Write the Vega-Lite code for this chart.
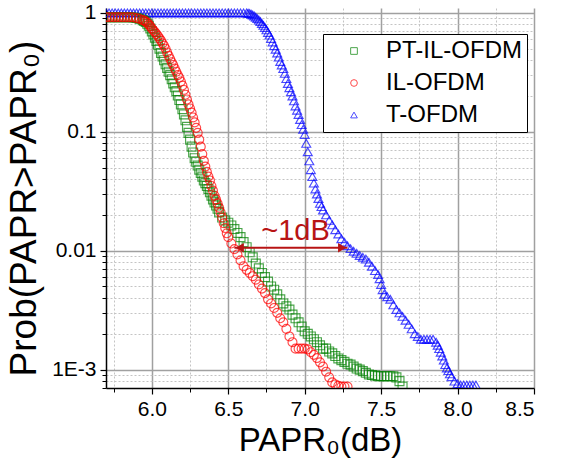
{
  "$schema": "https://vega.github.io/schema/vega-lite/v6.json",
  "width": 428,
  "height": 380,
  "autosize": {"type": "none"},
  "padding": {"left": 106, "top": 8, "right": 28, "bottom": 84},
  "config": {"view": {"stroke": null}, "font": "Liberation Sans"},
  "datasets": {
    "ccdf": [
      {"s":"T-OFDM","x":5.70,"p":1},{"s":"T-OFDM","x":5.72,"p":1},{"s":"T-OFDM","x":5.74,"p":1},{"s":"T-OFDM","x":5.76,"p":1},{"s":"T-OFDM","x":5.78,"p":1},{"s":"T-OFDM","x":5.80,"p":1},{"s":"T-OFDM","x":5.82,"p":1},{"s":"T-OFDM","x":5.84,"p":1},{"s":"T-OFDM","x":5.86,"p":1},{"s":"T-OFDM","x":5.88,"p":1},{"s":"T-OFDM","x":5.90,"p":1},{"s":"T-OFDM","x":5.92,"p":1},{"s":"T-OFDM","x":5.94,"p":1},{"s":"T-OFDM","x":5.96,"p":1},{"s":"T-OFDM","x":5.98,"p":1},{"s":"T-OFDM","x":6.00,"p":1},{"s":"T-OFDM","x":6.02,"p":1},{"s":"T-OFDM","x":6.04,"p":1},{"s":"T-OFDM","x":6.06,"p":1},{"s":"T-OFDM","x":6.08,"p":1},{"s":"T-OFDM","x":6.10,"p":1},{"s":"T-OFDM","x":6.12,"p":1},{"s":"T-OFDM","x":6.14,"p":1},{"s":"T-OFDM","x":6.16,"p":1},{"s":"T-OFDM","x":6.18,"p":1},{"s":"T-OFDM","x":6.20,"p":1},{"s":"T-OFDM","x":6.22,"p":1},{"s":"T-OFDM","x":6.24,"p":1},{"s":"T-OFDM","x":6.26,"p":1},{"s":"T-OFDM","x":6.28,"p":1},{"s":"T-OFDM","x":6.30,"p":1},{"s":"T-OFDM","x":6.32,"p":1},{"s":"T-OFDM","x":6.34,"p":1},{"s":"T-OFDM","x":6.36,"p":1},{"s":"T-OFDM","x":6.38,"p":1},{"s":"T-OFDM","x":6.40,"p":1},{"s":"T-OFDM","x":6.42,"p":1},{"s":"T-OFDM","x":6.44,"p":1},{"s":"T-OFDM","x":6.46,"p":1},{"s":"T-OFDM","x":6.48,"p":1},{"s":"T-OFDM","x":6.50,"p":1},{"s":"T-OFDM","x":6.52,"p":1},{"s":"T-OFDM","x":6.54,"p":1},{"s":"T-OFDM","x":6.56,"p":1},{"s":"T-OFDM","x":6.58,"p":1},{"s":"T-OFDM","x":6.60,"p":1},
      {"s":"T-OFDM","x":6.62,"p":1},{"s":"T-OFDM","x":6.63,"p":0.995},{"s":"T-OFDM","x":6.64,"p":0.99},{"s":"T-OFDM","x":6.65,"p":0.975},{"s":"T-OFDM","x":6.66,"p":0.96},{"s":"T-OFDM","x":6.67,"p":0.94},{"s":"T-OFDM","x":6.68,"p":0.92},{"s":"T-OFDM","x":6.69,"p":0.895},{"s":"T-OFDM","x":6.70,"p":0.87},{"s":"T-OFDM","x":6.71,"p":0.845},{"s":"T-OFDM","x":6.72,"p":0.815},{"s":"T-OFDM","x":6.73,"p":0.785},{"s":"T-OFDM","x":6.74,"p":0.755},{"s":"T-OFDM","x":6.75,"p":0.72},{"s":"T-OFDM","x":6.76,"p":0.685},{"s":"T-OFDM","x":6.77,"p":0.65},{"s":"T-OFDM","x":6.78,"p":0.61},{"s":"T-OFDM","x":6.79,"p":0.57},{"s":"T-OFDM","x":6.80,"p":0.53},{"s":"T-OFDM","x":6.81,"p":0.495},{"s":"T-OFDM","x":6.82,"p":0.46},{"s":"T-OFDM","x":6.83,"p":0.425},{"s":"T-OFDM","x":6.84,"p":0.39},{"s":"T-OFDM","x":6.85,"p":0.365},{"s":"T-OFDM","x":6.86,"p":0.34},{"s":"T-OFDM","x":6.87,"p":0.31},{"s":"T-OFDM","x":6.88,"p":0.28},{"s":"T-OFDM","x":6.89,"p":0.255},{"s":"T-OFDM","x":6.90,"p":0.235},{"s":"T-OFDM","x":6.91,"p":0.217},{"s":"T-OFDM","x":6.92,"p":0.2},{"s":"T-OFDM","x":6.93,"p":0.182},{"s":"T-OFDM","x":6.94,"p":0.165},{"s":"T-OFDM","x":6.95,"p":0.152},{"s":"T-OFDM","x":6.96,"p":0.14},{"s":"T-OFDM","x":6.97,"p":0.127},{"s":"T-OFDM","x":6.98,"p":0.115},{"s":"T-OFDM","x":6.99,"p":0.105},{"s":"T-OFDM","x":7.00,"p":0.095},{"s":"T-OFDM","x":7.01,"p":0.08},{"s":"T-OFDM","x":7.02,"p":0.068},{"s":"T-OFDM","x":7.03,"p":0.057},{"s":"T-OFDM","x":7.04,"p":0.048},{"s":"T-OFDM","x":7.05,"p":0.042},{"s":"T-OFDM","x":7.06,"p":0.037},{"s":"T-OFDM","x":7.07,"p":0.033},{"s":"T-OFDM","x":7.08,"p":0.03},{"s":"T-OFDM","x":7.09,"p":0.0275},{"s":"T-OFDM","x":7.10,"p":0.025},{"s":"T-OFDM","x":7.11,"p":0.0235},{"s":"T-OFDM","x":7.12,"p":0.022},
      {"s":"T-OFDM","x":7.14,"p":0.02},{"s":"T-OFDM","x":7.16,"p":0.018},{"s":"T-OFDM","x":7.18,"p":0.0165},{"s":"T-OFDM","x":7.20,"p":0.015},{"s":"T-OFDM","x":7.22,"p":0.0138},{"s":"T-OFDM","x":7.24,"p":0.0126},{"s":"T-OFDM","x":7.26,"p":0.0118},{"s":"T-OFDM","x":7.28,"p":0.011},{"s":"T-OFDM","x":7.30,"p":0.0104},{"s":"T-OFDM","x":7.32,"p":0.0099},{"s":"T-OFDM","x":7.34,"p":0.0095},{"s":"T-OFDM","x":7.36,"p":0.0091},{"s":"T-OFDM","x":7.38,"p":0.0088},{"s":"T-OFDM","x":7.40,"p":0.0085},{"s":"T-OFDM","x":7.42,"p":0.008},{"s":"T-OFDM","x":7.44,"p":0.0074},{"s":"T-OFDM","x":7.46,"p":0.0068},{"s":"T-OFDM","x":7.48,"p":0.0063},{"s":"T-OFDM","x":7.49,"p":0.0058},{"s":"T-OFDM","x":7.50,"p":0.0052},{"s":"T-OFDM","x":7.51,"p":0.0047},{"s":"T-OFDM","x":7.52,"p":0.0043},{"s":"T-OFDM","x":7.54,"p":0.0041},{"s":"T-OFDM","x":7.56,"p":0.0039},{"s":"T-OFDM","x":7.58,"p":0.0035},{"s":"T-OFDM","x":7.60,"p":0.0032},{"s":"T-OFDM","x":7.62,"p":0.003},{"s":"T-OFDM","x":7.64,"p":0.0028},{"s":"T-OFDM","x":7.66,"p":0.0026},{"s":"T-OFDM","x":7.68,"p":0.0024},{"s":"T-OFDM","x":7.70,"p":0.0022},{"s":"T-OFDM","x":7.72,"p":0.002},{"s":"T-OFDM","x":7.74,"p":0.0019},{"s":"T-OFDM","x":7.76,"p":0.0018},{"s":"T-OFDM","x":7.78,"p":0.0018},{"s":"T-OFDM","x":7.80,"p":0.0018},{"s":"T-OFDM","x":7.82,"p":0.0018},{"s":"T-OFDM","x":7.84,"p":0.0018},{"s":"T-OFDM","x":7.86,"p":0.0017},{"s":"T-OFDM","x":7.87,"p":0.0016},{"s":"T-OFDM","x":7.88,"p":0.0015},{"s":"T-OFDM","x":7.89,"p":0.0014},{"s":"T-OFDM","x":7.90,"p":0.0013},{"s":"T-OFDM","x":7.91,"p":0.0012},{"s":"T-OFDM","x":7.92,"p":0.0011},{"s":"T-OFDM","x":7.93,"p":0.00103},{"s":"T-OFDM","x":7.94,"p":0.00098},{"s":"T-OFDM","x":7.95,"p":0.00092},{"s":"T-OFDM","x":7.96,"p":0.00087},{"s":"T-OFDM","x":7.98,"p":0.0008},{"s":"T-OFDM","x":8.00,"p":0.00076},{"s":"T-OFDM","x":8.02,"p":0.00074},{"s":"T-OFDM","x":8.04,"p":0.00074},{"s":"T-OFDM","x":8.06,"p":0.00074},{"s":"T-OFDM","x":8.08,"p":0.00074},{"s":"T-OFDM","x":8.10,"p":0.00074},{"s":"T-OFDM","x":8.12,"p":0.00074},

      {"s":"PT-IL-OFDM","x":5.70,"p":0.92},{"s":"PT-IL-OFDM","x":5.72,"p":0.92},{"s":"PT-IL-OFDM","x":5.74,"p":0.92},{"s":"PT-IL-OFDM","x":5.76,"p":0.92},{"s":"PT-IL-OFDM","x":5.78,"p":0.92},{"s":"PT-IL-OFDM","x":5.80,"p":0.92},{"s":"PT-IL-OFDM","x":5.82,"p":0.92},{"s":"PT-IL-OFDM","x":5.84,"p":0.92},{"s":"PT-IL-OFDM","x":5.86,"p":0.92},{"s":"PT-IL-OFDM","x":5.88,"p":0.915},{"s":"PT-IL-OFDM","x":5.90,"p":0.905},{"s":"PT-IL-OFDM","x":5.92,"p":0.89},{"s":"PT-IL-OFDM","x":5.94,"p":0.87},{"s":"PT-IL-OFDM","x":5.95,"p":0.855},{"s":"PT-IL-OFDM","x":5.96,"p":0.84},{"s":"PT-IL-OFDM","x":5.97,"p":0.81},{"s":"PT-IL-OFDM","x":5.98,"p":0.78},{"s":"PT-IL-OFDM","x":5.99,"p":0.74},{"s":"PT-IL-OFDM","x":6.00,"p":0.7},{"s":"PT-IL-OFDM","x":6.01,"p":0.66},{"s":"PT-IL-OFDM","x":6.02,"p":0.62},{"s":"PT-IL-OFDM","x":6.03,"p":0.58},{"s":"PT-IL-OFDM","x":6.04,"p":0.54},{"s":"PT-IL-OFDM","x":6.05,"p":0.5},{"s":"PT-IL-OFDM","x":6.06,"p":0.46},{"s":"PT-IL-OFDM","x":6.07,"p":0.43},{"s":"PT-IL-OFDM","x":6.08,"p":0.4},{"s":"PT-IL-OFDM","x":6.09,"p":0.37},{"s":"PT-IL-OFDM","x":6.10,"p":0.345},{"s":"PT-IL-OFDM","x":6.11,"p":0.32},{"s":"PT-IL-OFDM","x":6.12,"p":0.3},{"s":"PT-IL-OFDM","x":6.13,"p":0.277},{"s":"PT-IL-OFDM","x":6.14,"p":0.255},{"s":"PT-IL-OFDM","x":6.15,"p":0.237},{"s":"PT-IL-OFDM","x":6.16,"p":0.22},{"s":"PT-IL-OFDM","x":6.17,"p":0.202},{"s":"PT-IL-OFDM","x":6.18,"p":0.185},{"s":"PT-IL-OFDM","x":6.19,"p":0.17},{"s":"PT-IL-OFDM","x":6.20,"p":0.155},{"s":"PT-IL-OFDM","x":6.21,"p":0.14},{"s":"PT-IL-OFDM","x":6.22,"p":0.125},{"s":"PT-IL-OFDM","x":6.23,"p":0.11},{"s":"PT-IL-OFDM","x":6.24,"p":0.098},{"s":"PT-IL-OFDM","x":6.25,"p":0.086},{"s":"PT-IL-OFDM","x":6.26,"p":0.075},{"s":"PT-IL-OFDM","x":6.27,"p":0.067},{"s":"PT-IL-OFDM","x":6.28,"p":0.06},{"s":"PT-IL-OFDM","x":6.29,"p":0.056},{"s":"PT-IL-OFDM","x":6.30,"p":0.052},{"s":"PT-IL-OFDM","x":6.31,"p":0.048},{"s":"PT-IL-OFDM","x":6.32,"p":0.045},{"s":"PT-IL-OFDM","x":6.33,"p":0.042},{"s":"PT-IL-OFDM","x":6.34,"p":0.039},{"s":"PT-IL-OFDM","x":6.35,"p":0.037},{"s":"PT-IL-OFDM","x":6.36,"p":0.035},{"s":"PT-IL-OFDM","x":6.37,"p":0.033},{"s":"PT-IL-OFDM","x":6.38,"p":0.031},{"s":"PT-IL-OFDM","x":6.39,"p":0.029},{"s":"PT-IL-OFDM","x":6.40,"p":0.027},{"s":"PT-IL-OFDM","x":6.41,"p":0.0255},{"s":"PT-IL-OFDM","x":6.42,"p":0.024},{"s":"PT-IL-OFDM","x":6.43,"p":0.0225},{"s":"PT-IL-OFDM","x":6.44,"p":0.021},{"s":"PT-IL-OFDM","x":6.46,"p":0.019},{"s":"PT-IL-OFDM","x":6.48,"p":0.018},{"s":"PT-IL-OFDM","x":6.50,"p":0.0172},{"s":"PT-IL-OFDM","x":6.52,"p":0.0163},{"s":"PT-IL-OFDM","x":6.54,"p":0.0152},{"s":"PT-IL-OFDM","x":6.56,"p":0.0141},{"s":"PT-IL-OFDM","x":6.58,"p":0.013},{"s":"PT-IL-OFDM","x":6.60,"p":0.0118},{"s":"PT-IL-OFDM","x":6.62,"p":0.0107},{"s":"PT-IL-OFDM","x":6.64,"p":0.0097},{"s":"PT-IL-OFDM","x":6.66,"p":0.0088},{"s":"PT-IL-OFDM","x":6.68,"p":0.0078},{"s":"PT-IL-OFDM","x":6.70,"p":0.0071},{"s":"PT-IL-OFDM","x":6.72,"p":0.0065},{"s":"PT-IL-OFDM","x":6.74,"p":0.006},{"s":"PT-IL-OFDM","x":6.76,"p":0.0055},{"s":"PT-IL-OFDM","x":6.78,"p":0.005},{"s":"PT-IL-OFDM","x":6.80,"p":0.0047},{"s":"PT-IL-OFDM","x":6.82,"p":0.0043},{"s":"PT-IL-OFDM","x":6.84,"p":0.0039},{"s":"PT-IL-OFDM","x":6.86,"p":0.0036},{"s":"PT-IL-OFDM","x":6.88,"p":0.0034},{"s":"PT-IL-OFDM","x":6.90,"p":0.0032},{"s":"PT-IL-OFDM","x":6.92,"p":0.0029},{"s":"PT-IL-OFDM","x":6.94,"p":0.0027},{"s":"PT-IL-OFDM","x":6.96,"p":0.0025},{"s":"PT-IL-OFDM","x":6.98,"p":0.0023},{"s":"PT-IL-OFDM","x":7.00,"p":0.0021},{"s":"PT-IL-OFDM","x":7.02,"p":0.002},{"s":"PT-IL-OFDM","x":7.04,"p":0.0019},{"s":"PT-IL-OFDM","x":7.06,"p":0.0018},{"s":"PT-IL-OFDM","x":7.08,"p":0.0017},{"s":"PT-IL-OFDM","x":7.10,"p":0.0016},{"s":"PT-IL-OFDM","x":7.12,"p":0.0015},{"s":"PT-IL-OFDM","x":7.14,"p":0.0015},{"s":"PT-IL-OFDM","x":7.16,"p":0.00142},{"s":"PT-IL-OFDM","x":7.18,"p":0.00137},{"s":"PT-IL-OFDM","x":7.20,"p":0.0013},{"s":"PT-IL-OFDM","x":7.22,"p":0.00124},{"s":"PT-IL-OFDM","x":7.24,"p":0.0012},{"s":"PT-IL-OFDM","x":7.26,"p":0.00116},{"s":"PT-IL-OFDM","x":7.28,"p":0.00112},{"s":"PT-IL-OFDM","x":7.30,"p":0.0011},{"s":"PT-IL-OFDM","x":7.32,"p":0.00106},{"s":"PT-IL-OFDM","x":7.34,"p":0.00102},{"s":"PT-IL-OFDM","x":7.36,"p":0.001},{"s":"PT-IL-OFDM","x":7.38,"p":0.00097},{"s":"PT-IL-OFDM","x":7.40,"p":0.00094},{"s":"PT-IL-OFDM","x":7.42,"p":0.00091},{"s":"PT-IL-OFDM","x":7.44,"p":0.0009},{"s":"PT-IL-OFDM","x":7.46,"p":0.00089},{"s":"PT-IL-OFDM","x":7.48,"p":0.00088},{"s":"PT-IL-OFDM","x":7.50,"p":0.00088},{"s":"PT-IL-OFDM","x":7.52,"p":0.00088},{"s":"PT-IL-OFDM","x":7.54,"p":0.00088},{"s":"PT-IL-OFDM","x":7.56,"p":0.00088},{"s":"PT-IL-OFDM","x":7.58,"p":0.00088},{"s":"PT-IL-OFDM","x":7.60,"p":0.00086},{"s":"PT-IL-OFDM","x":7.62,"p":0.0008},{"s":"PT-IL-OFDM","x":7.64,"p":0.00072},

      {"s":"IL-OFDM","x":5.70,"p":0.92},{"s":"IL-OFDM","x":5.72,"p":0.92},{"s":"IL-OFDM","x":5.74,"p":0.92},{"s":"IL-OFDM","x":5.76,"p":0.92},{"s":"IL-OFDM","x":5.78,"p":0.92},{"s":"IL-OFDM","x":5.80,"p":0.92},{"s":"IL-OFDM","x":5.82,"p":0.92},{"s":"IL-OFDM","x":5.84,"p":0.92},{"s":"IL-OFDM","x":5.86,"p":0.92},{"s":"IL-OFDM","x":5.88,"p":0.915},{"s":"IL-OFDM","x":5.90,"p":0.905},{"s":"IL-OFDM","x":5.92,"p":0.89},{"s":"IL-OFDM","x":5.94,"p":0.87},{"s":"IL-OFDM","x":5.95,"p":0.86},{"s":"IL-OFDM","x":5.96,"p":0.845},{"s":"IL-OFDM","x":5.97,"p":0.825},{"s":"IL-OFDM","x":5.98,"p":0.8},{"s":"IL-OFDM","x":5.99,"p":0.77},{"s":"IL-OFDM","x":6.00,"p":0.74},{"s":"IL-OFDM","x":6.01,"p":0.715},{"s":"IL-OFDM","x":6.02,"p":0.69},{"s":"IL-OFDM","x":6.03,"p":0.665},{"s":"IL-OFDM","x":6.04,"p":0.64},{"s":"IL-OFDM","x":6.05,"p":0.61},{"s":"IL-OFDM","x":6.06,"p":0.585},{"s":"IL-OFDM","x":6.07,"p":0.555},{"s":"IL-OFDM","x":6.08,"p":0.53},{"s":"IL-OFDM","x":6.09,"p":0.5},{"s":"IL-OFDM","x":6.10,"p":0.465},{"s":"IL-OFDM","x":6.11,"p":0.435},{"s":"IL-OFDM","x":6.12,"p":0.41},{"s":"IL-OFDM","x":6.13,"p":0.385},{"s":"IL-OFDM","x":6.14,"p":0.365},{"s":"IL-OFDM","x":6.15,"p":0.34},{"s":"IL-OFDM","x":6.16,"p":0.32},{"s":"IL-OFDM","x":6.17,"p":0.3},{"s":"IL-OFDM","x":6.18,"p":0.285},{"s":"IL-OFDM","x":6.19,"p":0.265},{"s":"IL-OFDM","x":6.20,"p":0.245},{"s":"IL-OFDM","x":6.21,"p":0.225},{"s":"IL-OFDM","x":6.22,"p":0.205},{"s":"IL-OFDM","x":6.23,"p":0.187},{"s":"IL-OFDM","x":6.24,"p":0.17},{"s":"IL-OFDM","x":6.25,"p":0.157},{"s":"IL-OFDM","x":6.26,"p":0.145},{"s":"IL-OFDM","x":6.27,"p":0.132},{"s":"IL-OFDM","x":6.28,"p":0.12},{"s":"IL-OFDM","x":6.29,"p":0.108},{"s":"IL-OFDM","x":6.30,"p":0.098},{"s":"IL-OFDM","x":6.31,"p":0.086},{"s":"IL-OFDM","x":6.32,"p":0.075},{"s":"IL-OFDM","x":6.33,"p":0.065},{"s":"IL-OFDM","x":6.34,"p":0.057},{"s":"IL-OFDM","x":6.35,"p":0.051},{"s":"IL-OFDM","x":6.36,"p":0.046},{"s":"IL-OFDM","x":6.37,"p":0.042},{"s":"IL-OFDM","x":6.38,"p":0.039},{"s":"IL-OFDM","x":6.39,"p":0.035},{"s":"IL-OFDM","x":6.40,"p":0.032},{"s":"IL-OFDM","x":6.41,"p":0.029},{"s":"IL-OFDM","x":6.42,"p":0.027},{"s":"IL-OFDM","x":6.43,"p":0.025},{"s":"IL-OFDM","x":6.44,"p":0.023},{"s":"IL-OFDM","x":6.45,"p":0.021},{"s":"IL-OFDM","x":6.46,"p":0.019},{"s":"IL-OFDM","x":6.47,"p":0.017},{"s":"IL-OFDM","x":6.48,"p":0.0155},{"s":"IL-OFDM","x":6.49,"p":0.014},{"s":"IL-OFDM","x":6.50,"p":0.013},{"s":"IL-OFDM","x":6.52,"p":0.0115},{"s":"IL-OFDM","x":6.54,"p":0.0103},{"s":"IL-OFDM","x":6.56,"p":0.0093},{"s":"IL-OFDM","x":6.58,"p":0.0083},{"s":"IL-OFDM","x":6.60,"p":0.0074},{"s":"IL-OFDM","x":6.62,"p":0.0069},{"s":"IL-OFDM","x":6.64,"p":0.0065},{"s":"IL-OFDM","x":6.66,"p":0.0061},{"s":"IL-OFDM","x":6.68,"p":0.0057},{"s":"IL-OFDM","x":6.70,"p":0.0052},{"s":"IL-OFDM","x":6.72,"p":0.0048},{"s":"IL-OFDM","x":6.74,"p":0.0044},{"s":"IL-OFDM","x":6.76,"p":0.0039},{"s":"IL-OFDM","x":6.78,"p":0.0036},{"s":"IL-OFDM","x":6.80,"p":0.0033},{"s":"IL-OFDM","x":6.82,"p":0.003},{"s":"IL-OFDM","x":6.84,"p":0.0027},{"s":"IL-OFDM","x":6.86,"p":0.0025},{"s":"IL-OFDM","x":6.88,"p":0.0022},{"s":"IL-OFDM","x":6.90,"p":0.0019},{"s":"IL-OFDM","x":6.92,"p":0.0017},{"s":"IL-OFDM","x":6.94,"p":0.0015},{"s":"IL-OFDM","x":6.96,"p":0.0015},{"s":"IL-OFDM","x":6.98,"p":0.0015},{"s":"IL-OFDM","x":7.00,"p":0.0015},{"s":"IL-OFDM","x":7.02,"p":0.00148},{"s":"IL-OFDM","x":7.04,"p":0.0014},{"s":"IL-OFDM","x":7.06,"p":0.00133},{"s":"IL-OFDM","x":7.08,"p":0.00125},{"s":"IL-OFDM","x":7.10,"p":0.00115},{"s":"IL-OFDM","x":7.12,"p":0.00106},{"s":"IL-OFDM","x":7.14,"p":0.00096},{"s":"IL-OFDM","x":7.16,"p":0.00086},{"s":"IL-OFDM","x":7.18,"p":0.00078},{"s":"IL-OFDM","x":7.20,"p":0.00075},{"s":"IL-OFDM","x":7.22,"p":0.00073},{"s":"IL-OFDM","x":7.24,"p":0.00072},{"s":"IL-OFDM","x":7.26,"p":0.00072},{"s":"IL-OFDM","x":7.28,"p":0.00072}
    ],
    "arrow": [{"x": 6.54, "x2": 7.28, "p": 0.0106}],
    "headL": [{"x": 6.575, "p": 0.0106}],
    "headR": [{"x": 7.245, "p": 0.0106}],
    "note": [{"x": 6.94, "p": 0.0123, "t": "~1dB"}]
  },
  "layer": [
    {
      "data": {"name": "ccdf"},
      "mark": {"type": "point", "filled": false, "strokeWidth": 1.15, "size": 80, "clip": true},
      "encoding": {
        "x": {
          "field": "x", "type": "quantitative",
          "scale": {"domain": [5.7, 8.5], "nice": false, "zero": false},
          "axis": {
            "orient": "bottom",
            "values": [6, 6.5, 7, 7.5, 8, 8.5], "format": ".1f",
            "grid": true, "gridColor": "#a0a0a0", "gridWidth": 1.5,
            "domainColor": "#000000", "domainWidth": 1.5,
            "tickColor": "#000000", "tickSize": 6, "tickWidth": 1.2,
            "labelFontSize": 21, "labelColor": "#000000", "labelPadding": 4,
            "title": "PAPR₀(dB)", "titleFontSize": 33, "titleFontWeight": "normal", "titleColor": "#000000", "titlePadding": 5
          }
        },
        "y": {
          "field": "p", "type": "quantitative",
          "scale": {"type": "log", "domain": [0.0007, 1.1], "nice": false},
          "axis": {
            "orient": "left",
            "values": [1, 0.1, 0.01, 0.001],
            "labelExpr": "datum.value < 0.005 ? '1E-3' : datum.value < 0.05 ? '0.01' : datum.value < 0.5 ? '0.1' : '1'",
            "grid": true, "gridColor": "#a0a0a0", "gridWidth": 1.5,
            "domainColor": "#000000", "domainWidth": 1.5,
            "tickColor": "#000000", "tickSize": 6, "tickWidth": 1.2,
            "labelFontSize": 21, "labelColor": "#000000", "labelPadding": 4,
            "title": "Prob(PAPR>PAPR₀)", "titleFontSize": 37, "titleFontWeight": "normal", "titleColor": "#000000",
            "titleX": -71, "titleY": 200, "titleBaseline": "alphabetic", "titleAlign": "center", "titleAngle": -90
          }
        },
        "color": {
          "field": "s", "type": "nominal",
          "scale": {"domain": ["PT-IL-OFDM", "IL-OFDM", "T-OFDM"], "range": ["#008000", "#ff0000", "#0000ff"]},
          "legend": {
            "orient": "none", "legendX": 217, "legendY": 26, "title": null,
            "strokeColor": "#000000", "fillColor": "#ffffff", "padding": 5,
            "symbolOffset": 14, "symbolSize": 45, "symbolStrokeWidth": 1, "symbolFillColor": "transparent",
            "labelFontSize": 24, "labelColor": "#000000", "labelOffset": 20, "rowPadding": 8
          }
        },
        "shape": {
          "field": "s", "type": "nominal",
          "scale": {"domain": ["PT-IL-OFDM", "IL-OFDM", "T-OFDM"], "range": ["square", "circle", "triangle-up"]},
          "legend": {
            "orient": "none", "legendX": 217, "legendY": 26, "title": null,
            "strokeColor": "#000000", "fillColor": "#ffffff", "padding": 5,
            "symbolOffset": 14, "symbolSize": 45, "symbolStrokeWidth": 1, "symbolFillColor": "transparent",
            "labelFontSize": 24, "labelColor": "#000000", "labelOffset": 20, "rowPadding": 8
          }
        }
      }
    },
    {
      "data": {"name": "arrow"},
      "mark": {"type": "rule", "color": "#b81414", "strokeWidth": 2},
      "encoding": {
        "x": {
          "field": "x", "type": "quantitative",
          "axis": {
            "orient": "bottom",
            "values": [5.75, 6.25, 6.75, 7.25, 7.75, 8.25],
            "grid": true, "gridColor": "#c4c4c4", "gridDash": [2, 2], "gridWidth": 1,
            "domain": false, "labels": false, "tickColor": "#000000", "tickSize": 4, "title": null
          }
        },
        "x2": {"field": "x2"},
        "y": {
          "field": "p", "type": "quantitative",
          "axis": {
            "orient": "left",
            "values": [0.0007, 0.0008, 0.0009, 0.002, 0.003, 0.004, 0.005, 0.006, 0.007, 0.008, 0.009, 0.02, 0.03, 0.04, 0.05, 0.06, 0.07, 0.08, 0.09, 0.2, 0.3, 0.4, 0.5, 0.6, 0.7, 0.8, 0.9],
            "grid": true, "gridColor": "#c4c4c4", "gridDash": [2, 2], "gridWidth": 1,
            "domain": false, "labels": false, "tickColor": "#000000", "tickSize": 4, "title": null
          }
        }
      }
    },
    {
      "data": {"name": "headL"},
      "mark": {"type": "point", "shape": "triangle-left", "filled": true, "color": "#b81414", "size": 90, "opacity": 1},
      "encoding": {
        "x": {"field": "x", "type": "quantitative", "axis": null},
        "y": {"field": "p", "type": "quantitative", "axis": null}
      }
    },
    {
      "data": {"name": "headR"},
      "mark": {"type": "point", "shape": "triangle-right", "filled": true, "color": "#b81414", "size": 90, "opacity": 1},
      "encoding": {
        "x": {"field": "x", "type": "quantitative", "axis": null},
        "y": {"field": "p", "type": "quantitative", "axis": null}
      }
    },
    {
      "data": {"name": "note"},
      "mark": {"type": "text", "color": "#b81414", "fontSize": 29, "align": "center", "baseline": "alphabetic"},
      "encoding": {
        "x": {"field": "x", "type": "quantitative", "axis": null},
        "y": {"field": "p", "type": "quantitative", "axis": null},
        "text": {"field": "t"}
      }
    }
  ],
  "resolve": {"axis": {"x": "independent", "y": "independent"}}
}
